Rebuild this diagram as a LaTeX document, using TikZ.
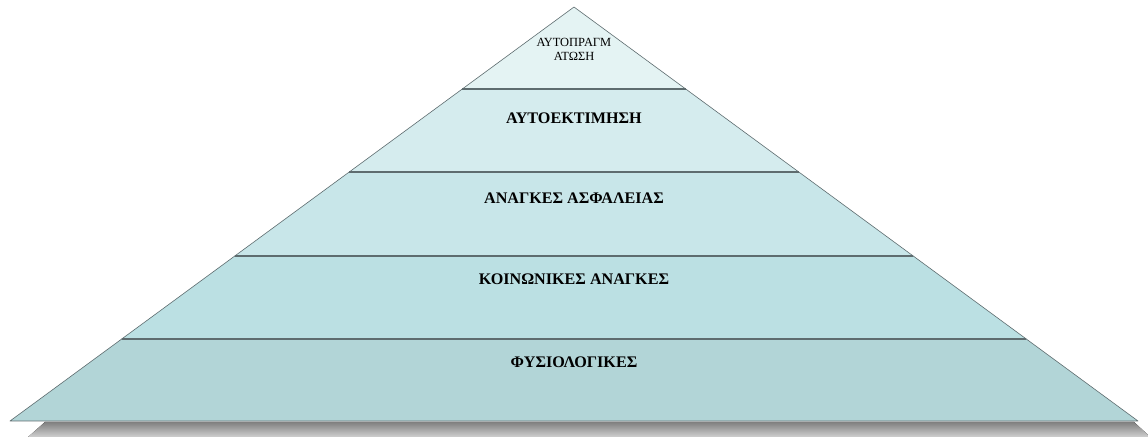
\documentclass[tikz,border=0pt]{standalone}
\usepackage{fontspec}
\setmainfont{Liberation Serif}
\usetikzlibrary{calc}
\definecolor{lvA}{HTML}{E4F3F3}
\definecolor{lvB}{HTML}{D5ECEE}
\definecolor{lvC}{HTML}{C8E6E9}
\definecolor{lvD}{HTML}{BBE0E3}
\definecolor{lvE}{HTML}{B2D5D7}
\definecolor{edge}{HTML}{5E6C6F}
\definecolor{shade}{HTML}{C0C0C0}
\tikzset{
  level/.style={draw=edge, line width=0.6bp, line join=round},
  sep/.style={draw=edge, line width=2bp},
  lbl/.style={font=\fontsize{16.2}{18}\selectfont\bfseries, inner sep=0pt},
  toplbl/.style={font=\fontsize{12.5}{14}\selectfont, align=center, inner sep=0pt}
}
\begin{document}
\begin{tikzpicture}[x=1bp,y=-1bp]
\useasboundingbox (0,0) rectangle (1148,437);
\coordinate (apex) at (574,7);
\coordinate (bl) at (10,421);
\coordinate (br) at (1138,421);
\foreach \t/\n in {0.198/1,0.3986/2,0.6014/3,0.8019/4}{
  \coordinate (l\n) at ($(apex)!\t!(bl)$);
  \coordinate (r\n) at ($(apex)!\t!(br)$);
}
% shadow
\begin{scope}
\clip (0,0) rectangle (1148,437);
\fill[shade] (45,422) -- (1134,422) -- (1160,446) -- (18,446) -- cycle;
\end{scope}
% levels
\filldraw[level, fill=lvE] (l4) -- (r4) -- (br) -- (bl) -- cycle;
\filldraw[level, fill=lvD] (l3) -- (r3) -- (r4) -- (l4) -- cycle;
\filldraw[level, fill=lvC] (l2) -- (r2) -- (r3) -- (l3) -- cycle;
\filldraw[level, fill=lvB] (l1) -- (r1) -- (r2) -- (l2) -- cycle;
\filldraw[level, fill=lvA] (apex) -- (r1) -- (l1) -- cycle;
\foreach \n in {1,2,3,4}{ \draw[sep] (l\n) -- (r\n); }
% labels
\node[toplbl] (t1) at (574,49) {ΑΥΤΟΠΡΑΓΜ\\ΑΤΩΣΗ};
\node[lbl] (t2) at (574,118) {ΑΥΤΟΕΚΤΙΜΗΣΗ};
\node[lbl] (t3) at (574,198) {ΑΝΑΓΚΕΣ ΑΣΦΑΛΕΙΑΣ};
\node[lbl] (t4) at (574,279) {ΚΟΙΝΩΝΙΚΕΣ ΑΝΑΓΚΕΣ};
\node[lbl] (t5) at (574,362) {ΦΥΣΙΟΛΟΓΙΚΕΣ};
\end{tikzpicture}
\end{document}
